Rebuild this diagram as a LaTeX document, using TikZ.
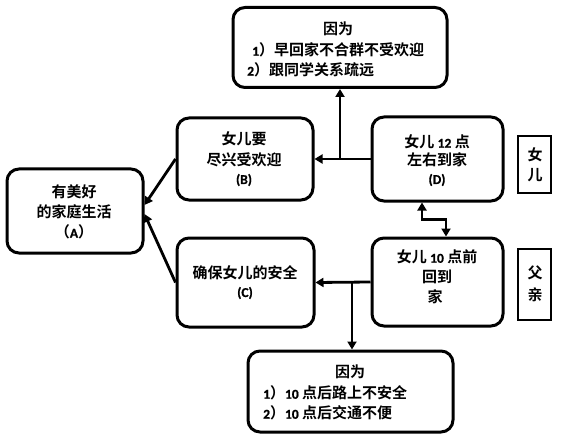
\documentclass[tikz,border=0pt]{standalone}
\usepackage{fontspec}
\newfontfamily\cjk{Noto Sans CJK SC}[BoldFont={Noto Sans CJK SC Bold}]
\newfontfamily\latb{Carlito}[UprightFont={* Bold}, BoldFont={* Bold}, BoldFeatures={FakeBold=1}, Numbers=Lining]
\usetikzlibrary{arrows.meta,calc}
\newcommand{\lb}[1]{{\latb\bfseries\fontsize{13.5}{13.5}\selectfont #1}}
\begin{document}
\begin{tikzpicture}[x=1pt,y=-1pt,
  box/.style={draw, line width=3pt, rounded corners=12pt, inner sep=0pt},
  tagbox/.style={draw, line width=2.2pt, inner sep=0pt},
  txt/.style={font=\cjk\bfseries\fontsize{15}{15}\selectfont, inner sep=0pt},
  arr/.style={line width=2.8pt, -{Triangle[width=9pt,length=8pt]}},
  darr/.style={line width=2.8pt, {Triangle[width=9pt,length=8pt]}-{Triangle[width=9pt,length=8pt]}},
]
\useasboundingbox (0,0) rectangle (565,441);
% boxes
\node[box, minimum width=136pt, minimum height=84pt] (A) at (75,211) {};
\node[box, minimum width=136pt, minimum height=82pt] (B) at (245,159) {};
\node[box, minimum width=137pt, minimum height=89pt] (C) at (245.5,282.5) {};
\node[box, minimum width=131pt, minimum height=84pt] (D) at (437.5,159) {};
\node[box, minimum width=131pt, minimum height=88pt] (E) at (437.5,282) {};
\node[box, minimum width=214pt, minimum height=80pt] (T) at (340,47.5) {};
\node[box, minimum width=205pt, minimum height=81pt] (F) at (350.5,391.5) {};
\node[tagbox, minimum width=33pt, minimum height=57pt] (G) at (534.5,164.5) {};
\node[tagbox, minimum width=33pt, minimum height=71pt] (H) at (534.5,284.5) {};
% texts
\node[txt] (a1) at (74,192) {有美好};
\node[txt] (a2) at (74,212) {的家庭生活};
\node[txt] (a3) at (74,232) {（\lb{A}）};
\node[txt] (b1) at (244,139) {女儿要};
\node[txt] (b2) at (244,160) {尽兴受欢迎};
\node[txt] (b3) at (244,180) {\lb{(B)}};
\node[txt] (c1) at (245,273) {确保女儿的安全};
\node[txt] (c2) at (245,293) {\lb{(C)}};
\node[txt] (d1) at (437,142) {女儿 \lb{12} 点};
\node[txt] (d2) at (437,160) {左右到家};
\node[txt] (d3) at (437,180) {\lb{(D)}};
\node[txt] (e1) at (437,257) {女儿 \lb{10} 点前};
\node[txt] (e2) at (437,277) {回到};
\node[txt] (e3) at (435,297) {家};
\node[txt] (t1) at (338,29) {因为};
\node[txt, anchor=west] (t2) at (252,50) {\lb{1}）早回家不合群不受欢迎};
\node[txt, anchor=west] (t3) at (247,70) {\lb{2}）跟同学关系疏远};
\node[txt] (f1) at (350,372) {因为};
\node[txt, anchor=west] (f2) at (263,393) {\lb{1}）\lb{10} 点后路上不安全};
\node[txt, anchor=west] (f3) at (263,413) {\lb{2}）\lb{10} 点后交通不便};
\node[txt] (g1) at (535,155) {女};
\node[txt] (g2) at (535,175) {儿};
\node[txt] (h1) at (535,273) {父};
\node[txt] (h2) at (535,295) {亲};
% connectors
\draw[arr] (D.west) -- (B.east);
\coordinate (j1) at (340,159);
\draw[arr] (j1) -- (T.south);
\draw[arr] (E.west) -- (C.east);
\coordinate (j2) at (352,282);
\draw[arr] (j2) -- (j2 |- F.north);
\draw[arr] (B.west) -- ($(A.east)+(0,-6)$);
\draw[arr] (C.west) -- ($(A.east)+(0,3)$);
\draw[darr] ($(D.south)+(-15.5,0)$) -- ++(0,17) -| ($(E.north)+(8.5,0)$);
\end{tikzpicture}
\end{document}
